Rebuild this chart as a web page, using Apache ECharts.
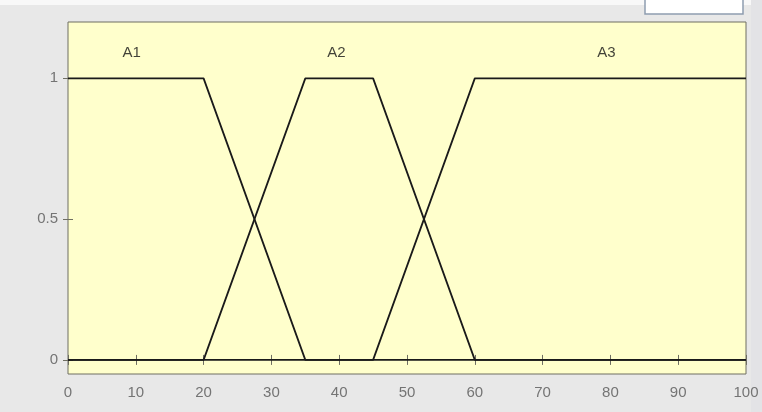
<!DOCTYPE html>
<html>
<head>
<meta charset="utf-8">
<script src="https://cdn.jsdelivr.net/npm/echarts@6/dist/echarts.min.js"></script>
<style>
  html, body { margin: 0; padding: 0; background: #e8e8e8; }
  #chart { width: 762px; height: 412px; }
</style>
</head>
<body>
<div id="chart"></div>
<script>
// Membership functions over the input range 0..100
const A1 = [[0, 1], [20, 1], [35, 0], [100, 0]];
const A2 = [[0, 0], [20, 0], [35, 1], [45, 1], [60, 0], [100, 0]];
const A3 = [[0, 0], [45, 0], [60, 1], [100, 1]];

// Names of the sets and where each name sits
const setNames = ['A1', 'A2', 'A3'];
const namePosX = [9.4, 39.6, 79.4];
const namePosY = 1.09;

// Axis ticks
const xTickValues = [0, 10, 20, 30, 40, 50, 60, 70, 80, 90, 100];
const yTickValues = [0, 0.5, 1];

const chart = echarts.init(document.getElementById('chart'));

const lineColor = '#1a1a1a';
const tickColor = '#6e6e62';
const labelColor = '#747474';
const font = '"Liberation Sans", Arial, sans-serif';

function mfSeries(name, data) {
  return {
    name, type: 'line', data, symbol: 'none', silent: true,
    lineStyle: { color: lineColor, width: 1.8 }
  };
}

const common = { min: 0, max: 100, interval: 10, type: 'value' };

chart.setOption({
  backgroundColor: '#e8e8e8',
  animation: false,
  graphic: [
    { type: 'rect', shape: { x: 0, y: 0, width: 762, height: 5 }, style: { fill: '#f8f8f8' }, z: 0 },
    { type: 'rect', shape: { x: 645, y: -2, width: 98, height: 16 },
      style: { fill: '#ffffff', stroke: '#8e9db0', lineWidth: 1.5 }, z: 0 },
    { type: 'rect', shape: { x: 751, y: 0, width: 11, height: 412 }, style: { fill: '#e3e3e6' }, z: 0 }
  ],
  grid: {
    left: 68, right: 16, top: 22, bottom: 38,
    show: true, backgroundColor: '#ffffcc', borderColor: tickColor, borderWidth: 1
  },
  xAxis: [
    Object.assign({}, common, {
      position: 'bottom',
      axisLine: { show: false },
      axisTick: { inside: true, length: 5, lineStyle: { color: tickColor } },
      axisLabel: { color: labelColor, fontFamily: font, fontSize: 15, margin: 11,
        customValues: xTickValues, showMinLabel: true, showMaxLabel: true },
      splitLine: { show: false }
    }),
    Object.assign({}, common, {
      position: 'top',
      axisLine: { show: false },
      axisTick: { inside: true, length: 5, lineStyle: { color: tickColor } },
      axisLabel: { show: false },
      splitLine: { show: false }
    })
  ],
  yAxis: [
    {
      type: 'value', min: -0.05, max: 1.2, position: 'left',
      axisLine: { show: false },
      axisTick: { inside: true, length: 5, customValues: yTickValues, lineStyle: { color: tickColor } },
      axisLabel: { customValues: yTickValues, color: labelColor, fontFamily: font, fontSize: 15, margin: 10 },
      splitLine: { show: false }
    },
    {
      type: 'value', min: -0.05, max: 1.2, position: 'right',
      axisLine: { show: false },
      axisTick: { inside: true, length: 5, customValues: yTickValues, lineStyle: { color: tickColor } },
      axisLabel: { show: false },
      splitLine: { show: false }
    }
  ],
  series: [
    mfSeries('A1', A1),
    mfSeries('A2', A2),
    mfSeries('A3', A3),
    {
      type: 'scatter', symbolSize: 0, silent: true,
      data: setNames.map((n, i) => [namePosX[i], namePosY, n]),
      label: {
        show: true, position: 'inside', formatter: p => p.value[2],
        color: '#111', fontFamily: font, fontSize: 15
      }
    }
  ]
});
</script>
</body>
</html>
